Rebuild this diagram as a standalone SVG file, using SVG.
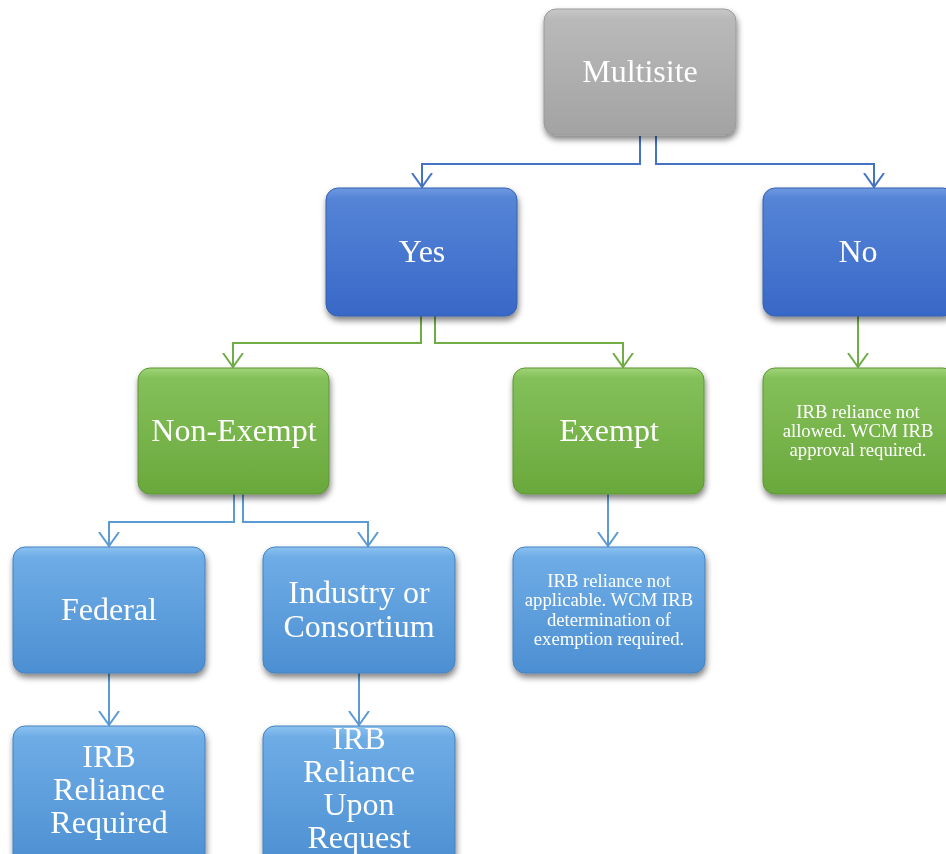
<svg xmlns="http://www.w3.org/2000/svg" width="946" height="854" viewBox="0 0 946 854">
<defs>
<linearGradient id="gGray" x1="0" y1="0" x2="0" y2="1"><stop offset="0" stop-color="#c8c8c8"/><stop offset="0.08" stop-color="#b9b9b9"/><stop offset="1" stop-color="#a3a3a3"/></linearGradient>
<linearGradient id="gBlue" x1="0" y1="0" x2="0" y2="1"><stop offset="0" stop-color="#6f9ae2"/><stop offset="0.08" stop-color="#5584d6"/><stop offset="1" stop-color="#3868c8"/></linearGradient>
<linearGradient id="gGreen" x1="0" y1="0" x2="0" y2="1"><stop offset="0" stop-color="#a0d478"/><stop offset="0.08" stop-color="#84c05a"/><stop offset="1" stop-color="#6aa83c"/></linearGradient>
<linearGradient id="gLight" x1="0" y1="0" x2="0" y2="1"><stop offset="0" stop-color="#8cc2f0"/><stop offset="0.08" stop-color="#6eace6"/><stop offset="1" stop-color="#4c8fd2"/></linearGradient>
<filter id="sh" x="-10%" y="-10%" width="125%" height="130%"><feGaussianBlur in="SourceAlpha" stdDeviation="3"/><feOffset dy="4" dx="1"/><feComponentTransfer><feFuncA type="linear" slope="0.5"/></feComponentTransfer><feMerge><feMergeNode/><feMergeNode in="SourceGraphic"/></feMerge></filter>
<marker id="arB" markerUnits="userSpaceOnUse" viewBox="0 -11 15 22" refX="14" refY="0" markerWidth="15" markerHeight="22" orient="auto"><path d="M0,-10 L14,0 L0,10" fill="none" stroke="#4472c4" stroke-width="2"/></marker>
<marker id="arG" markerUnits="userSpaceOnUse" viewBox="0 -11 15 22" refX="14" refY="0" markerWidth="15" markerHeight="22" orient="auto"><path d="M0,-10 L14,0 L0,10" fill="none" stroke="#70ad47" stroke-width="2"/></marker>
<marker id="arL" markerUnits="userSpaceOnUse" viewBox="0 -11 15 22" refX="14" refY="0" markerWidth="15" markerHeight="22" orient="auto"><path d="M0,-10 L14,0 L0,10" fill="none" stroke="#5b9bd5" stroke-width="2"/></marker>
</defs>
<style>
.box{filter:url(#sh);}
.gray{fill:url(#gGray);stroke:#9a9a9a;stroke-width:1;}
.blue{fill:url(#gBlue);stroke:#3460b0;stroke-width:1;}
.green{fill:url(#gGreen);stroke:#5f9635;stroke-width:1;}
.light{fill:url(#gLight);stroke:#4482c0;stroke-width:1;}
.t{font-family:"Liberation Serif","Times New Roman",serif;fill:#ffffff;text-anchor:middle;font-size:32px;}
.s{font-family:"Liberation Serif","Times New Roman",serif;fill:#ffffff;text-anchor:middle;font-size:18.7px;}
.cb{fill:none;stroke:#4472c4;stroke-width:2;}
.cg{fill:none;stroke:#70ad47;stroke-width:2;}
.cl{fill:none;stroke:#5b9bd5;stroke-width:2;}
</style>
<g id="connectors">
<path class="cb" d="M640,136 V164 H422 V187" marker-end="url(#arB)"/>
<path class="cb" d="M656,136 V164 H874 V187" marker-end="url(#arB)"/>
<path class="cg" d="M421,316 V343 H233 V367" marker-end="url(#arG)"/>
<path class="cg" d="M435,316 V343 H623 V367" marker-end="url(#arG)"/>
<path class="cg" d="M858,316 V367" marker-end="url(#arG)"/>
<path class="cl" d="M234,494 V522 H109 V546" marker-end="url(#arL)"/>
<path class="cl" d="M243,494 V522 H368 V546" marker-end="url(#arL)"/>
<path class="cl" d="M608,494 V546" marker-end="url(#arL)"/>
<path class="cl" d="M109,673 V725" marker-end="url(#arL)"/>
<path class="cl" d="M359,673 V725" marker-end="url(#arL)"/>
</g>
<g id="multisite" class="box"><rect class="gray" x="544" y="9" width="192" height="126" rx="12"/><text class="t" x="640" y="82">Multisite</text></g>
<g id="yes" class="box"><rect class="blue" x="326" y="188" width="191" height="128" rx="12"/><text class="t" x="422" y="262">Yes</text></g>
<g id="no" class="box"><rect class="blue" x="763" y="188" width="192" height="128" rx="12"/><text class="t" x="858" y="262">No</text></g>
<g id="nonexempt" class="box"><rect class="green" x="138" y="368" width="191" height="126" rx="12"/><text class="t" x="234" y="441">Non-Exempt</text></g>
<g id="exempt" class="box"><rect class="green" x="513" y="368" width="191" height="126" rx="12"/><text class="t" x="609" y="441">Exempt</text></g>
<g id="notallowed" class="box"><rect class="green" x="763" y="368" width="192" height="126" rx="12"/><text class="s" x="858" y="418">IRB reliance not</text><text class="s" x="858" y="437">allowed. WCM IRB</text><text class="s" x="858" y="456">approval required.</text></g>
<g id="federal" class="box"><rect class="light" x="13" y="547" width="192" height="126" rx="12"/><text class="t" x="109" y="620">Federal</text></g>
<g id="industry" class="box"><rect class="light" x="263" y="547" width="192" height="126" rx="12"/><text class="t" x="359" y="603">Industry or</text><text class="t" x="359" y="637">Consortium</text></g>
<g id="notapplicable" class="box"><rect class="light" x="513" y="547" width="192" height="126" rx="12"/><text class="s" x="609" y="587">IRB reliance not</text><text class="s" x="609" y="606">applicable. WCM IRB</text><text class="s" x="609" y="626">determination of</text><text class="s" x="609" y="645">exemption required.</text></g>
<g id="required" class="box"><rect class="light" x="13" y="726" width="192" height="140" rx="12"/><text class="t" x="109" y="767">IRB</text><text class="t" x="109" y="800">Reliance</text><text class="t" x="109" y="833">Required</text></g>
<g id="uponrequest" class="box"><rect class="light" x="263" y="726" width="192" height="140" rx="12"/><text class="t" x="359" y="749">IRB</text><text class="t" x="359" y="782">Reliance</text><text class="t" x="359" y="815">Upon</text><text class="t" x="359" y="848">Request</text></g>
</svg>
